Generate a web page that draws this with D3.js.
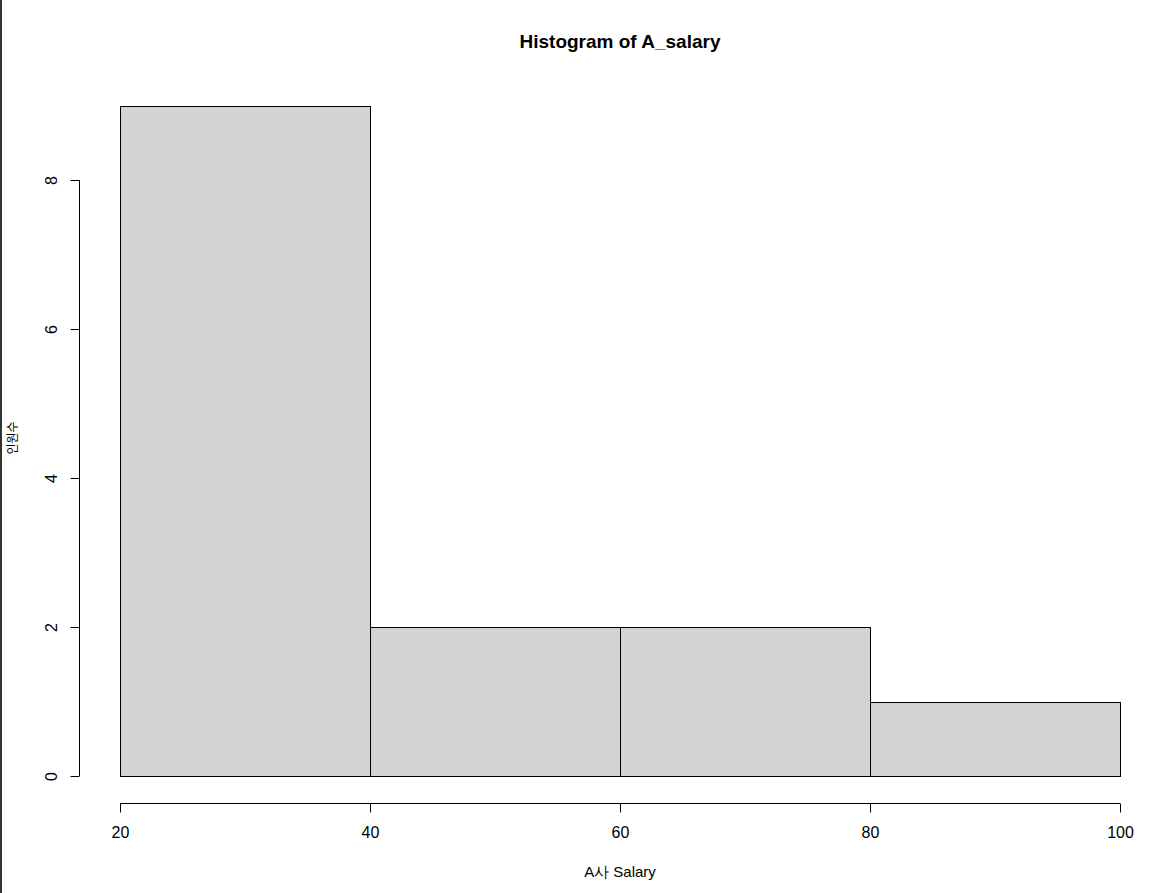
<!DOCTYPE html>
<html><head><meta charset="utf-8">
<script src="https://cdn.jsdelivr.net/npm/d3@7"></script>
<style>
html,body{margin:0;padding:0;background:#fff;}
svg{display:block;}
text{font-family:"Liberation Sans",Arial,sans-serif;fill:#000;}
</style></head>
<body>
<script>
const binStarts = [20, 40, 60, 80];
const binEnds = [40, 60, 80, 100];
const counts = [9, 2, 2, 1];
const xTicks = [20, 40, 60, 80, 100];
const yTicks = [0, 2, 4, 6, 8];
const title = "Histogram of A_salary";
const xLabel = "A사 Salary";
const yLabel = "인원수";

const W = 1166, H = 893;
const svg = d3.select("body").append("svg").attr("width", W).attr("height", H);

// left border line
svg.append("rect").attr("x",0).attr("y",0).attr("width",2).attr("height",H).attr("fill","#333");

const x = d3.scaleLinear().domain([20, 100]).range([120, 1120]);
const y = d3.scaleLinear().domain([0, 8]).range([776, 180]);

const bins = binStarts.map((s,i)=>({x0:s,x1:binEnds[i],c:counts[i]}));
svg.selectAll("rect.bar").data(bins).enter().append("rect")
  .attr("class","bar")
  .attr("x",d=>x(d.x0)+0.5).attr("y",d=>Math.round(y(d.c))+0.5)
  .attr("width",d=>x(d.x1)-x(d.x0)).attr("height",d=>Math.round(y(0))-Math.round(y(d.c)))
  .attr("fill","#d3d3d3").attr("stroke","#000").attr("stroke-width",1);

// x axis
const gx = svg.append("g").attr("transform","translate(0,803.5)");
gx.append("line").attr("x1",x(20)).attr("x2",x(100)).attr("stroke","#000");
gx.selectAll("line.t").data(xTicks).enter().append("line")
  .attr("x1",d=>x(d)+0.5).attr("x2",d=>x(d)+0.5).attr("y1",0).attr("y2",9).attr("stroke","#000");
gx.selectAll("text").data(xTicks).enter().append("text")
  .attr("x",d=>x(d)+0.5).attr("y",34).attr("text-anchor","middle").attr("font-size",16).text(d=>d);

// y axis
const gy = svg.append("g").attr("transform","translate(79.5,0)");
gy.append("line").attr("y1",y(8)).attr("y2",y(0)).attr("stroke","#000");
gy.selectAll("line.t").data(yTicks).enter().append("line")
  .attr("y1",d=>y(d)+0.5).attr("y2",d=>y(d)+0.5).attr("x1",0).attr("x2",-9).attr("stroke","#000");
gy.selectAll("text").data(yTicks).enter().append("text")
  .attr("transform",d=>`translate(-23,${y(d)+0.5}) rotate(-90)`)
  .attr("text-anchor","middle").attr("font-size",16).text(d=>d);

svg.append("text").attr("x",620).attr("y",48).attr("text-anchor","middle")
  .attr("font-size",19).attr("font-weight","bold").text(title);
svg.append("text").attr("x",620).attr("y",877).attr("text-anchor","middle")
  .attr("font-size",15).text(xLabel);
svg.append("text").attr("transform","translate(17,438) rotate(-90)").attr("text-anchor","middle")
  .attr("font-size",12).style("font-family","'Noto Sans CJK KR',sans-serif").text(yLabel);
</script>
</body></html>
